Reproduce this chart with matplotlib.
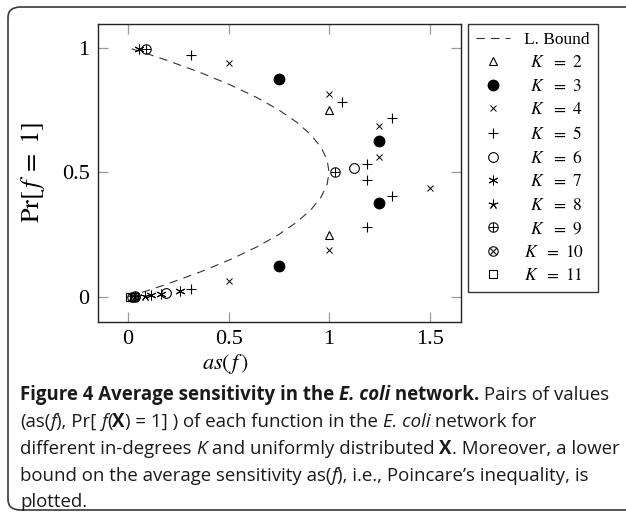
import matplotlib
matplotlib.use("Agg")
from matplotlib import pyplot as plt
from matplotlib.patches import FancyBboxPatch

plt.rcParams['mathtext.fontset'] = 'stix'
plt.rcParams['lines.scale_dashes'] = False

# lower bound (Poincare)
bound_as = [0, 0.0975, 0.19, 0.36, 0.51, 0.64, 0.75, 0.84, 0.91, 0.96, 0.99, 1.0,
            0.99, 0.96, 0.91, 0.84, 0.75, 0.64, 0.51, 0.36, 0.19, 0.0975, 0]
bound_pr = [0, 0.025, 0.05, 0.1, 0.15, 0.2, 0.25, 0.3, 0.35, 0.4, 0.45, 0.5,
            0.55, 0.6, 0.65, 0.7, 0.75, 0.8, 0.85, 0.9, 0.95, 0.975, 1.0]

# (as(f), Pr[f=1]) per in-degree K
k2_as = [1.0, 1.0]
k2_pr = [0.75, 0.25]
k3_as = [0.75, 1.25, 1.25, 0.75]
k3_pr = [0.875, 0.625, 0.375, 0.125]
k4_as = [0.5, 1.0, 1.25, 1.25, 1.5, 1.0, 0.5]
k4_pr = [0.9375, 0.8125, 0.6875, 0.5625, 0.4375, 0.1875, 0.0625]
k5_as = [0.3125, 1.0625, 1.3125, 1.1875, 1.1875, 1.3125, 1.1875, 0.3125]
k5_pr = [0.96875, 0.78125, 0.71875, 0.53125, 0.46875, 0.40625, 0.28125, 0.03125]
k6_as = [1.125, 0.1875]
k6_pr = [0.515, 0.0156]
k7_as = [0.055, 0.115, 0.165, 0.26]
k7_pr = [0.995, 0.008, 0.012, 0.022]
k8_as = [0.085]
k8_pr = [0.004]
k9_as = [0.09, 1.03, 0.035]
k9_pr = [0.995, 0.5, 0.002]
k10_as = [0.02, 0.035]
k10_pr = [0.001, 0.0]
k11_as = [0.01, 0.03]
k11_pr = [0.0, 0.0]

x_ticks = [0, 0.5, 1, 1.5]
x_labels = ['0', '0.5', '1', '1.5']
y_ticks = [0, 0.5, 1]
y_labels = ['0', '0.5', '1']

W, H = 626, 527
fig = plt.figure(figsize=(W / 100, H / 100), dpi=100)

# rounded frame round the figure (open on the right)
frame = FancyBboxPatch((8 / W, 1 - 510 / H), 700 / W, 503 / H,
                       boxstyle="round,pad=0,rounding_size=0.02",
                       transform=fig.transFigure, fill=False,
                       edgecolor='#3a3a3a', linewidth=1.2, clip_on=False)
fig.patches.append(frame)

ax = fig.add_axes([98 / W, 1 - 321.7 / H, 362.7 / W, 297.7 / H])
ax.set_xlim(-0.15, 1.655)
ax.set_ylim(-0.1, 1.095)

kw = dict(linestyle='none', color='black')
hb, = ax.plot(bound_as, bound_pr, linestyle='--', dashes=(6, 4.5),
              color='#333333', linewidth=0.8, label='L. Bound')
h2, = ax.plot(k2_as, k2_pr, marker='^', markersize=6, mfc='none', mew=0.8, **kw)
h3, = ax.plot(k3_as, k3_pr, marker='o', markersize=7.5, **kw)
h4, = ax.plot(k4_as, k4_pr, marker='x', markersize=5, mew=0.7, **kw)
h5, = ax.plot(k5_as, k5_pr, marker='+', markersize=7, mew=0.8, **kw)
h6, = ax.plot(k6_as, k6_pr, marker='o', markersize=7, mfc='none', mew=0.8, **kw)
h7, = ax.plot(k7_as, k7_pr, marker=(6, 2, 0), markersize=7, mew=0.7, **kw)
h8, = ax.plot(k8_as, k8_pr, marker=(5, 2, 0), markersize=7, mew=0.7, **kw)
h9, = ax.plot(k9_as, k9_pr, marker=r'$\oplus$', markersize=7.5, mew=0.1, **kw)
h10, = ax.plot(k10_as, k10_pr, marker=r'$\otimes$', markersize=7.5, mew=0.1, **kw)
h11, = ax.plot(k11_as, k11_pr, marker='s', markersize=6, mfc='none', mew=0.8, **kw)

ax.set_xticks(x_ticks)
ax.set_xticklabels(x_labels)
ax.set_yticks(y_ticks)
ax.set_yticklabels(y_labels)
ax.tick_params(direction='in', length=7, width=0.9, color='#9a9a9a',
               top=True, right=True, labelsize=16, pad=6)
for lab in ax.get_xticklabels() + ax.get_yticklabels():
    lab.set_family('Liberation Serif')
for sp in ax.spines.values():
    sp.set_linewidth(1.0)
    sp.set_color('#222222')

ax.set_ylabel(r'$\mathrm{Pr}[\,f\;=\;1]$', fontsize=19)
ax.yaxis.set_label_coords(-0.14, 0.5)
fig.text(226 / W, 1 - 364 / H, r'$as(\,f\,)$', fontsize=16,
         ha='center', va='center')

handles = [hb, h2, h3, h4, h5, h6, h7, h8, h9, h10, h11]
labels = ['L. Bound'] + [r'$\;\;K\ \ =\ %d$' % k for k in range(2, 10)] + \
         [r'$K\ \ =\ %d\;\;\;$' % k for k in (10, 11)]
leg = ax.legend(handles, labels, loc='upper left',
                bbox_to_anchor=(467.7 / W, 1 - 24 / H),
                bbox_transform=fig.transFigure, borderaxespad=0,
                fancybox=False, frameon=True, handlelength=2.0,
                handletextpad=0.8, labelspacing=0.42, borderpad=0.45,
                prop={'family': 'Liberation Serif', 'size': 12.5})
leg.get_frame().set_edgecolor('black')
leg.get_frame().set_linewidth(1.0)

# caption, drawn piece by piece
cap_font = 'Open Sans'
cap_size = 13.4
lines = [
    [("Figure 4 Average sensitivity in the ", 'bold', 'normal'),
     ("E. coli", 'bold', 'italic'),
     (" network.", 'bold', 'normal'),
     (" Pairs of values", 'normal', 'normal')],
    [("(as(", 'normal', 'normal'), ("f", 'normal', 'italic'),
     ("), Pr[ ", 'normal', 'normal'), ("f", 'normal', 'italic'),
     ("(", 'normal', 'normal'), ("X", 'bold', 'normal'),
     (") = 1] ) of each function in the ", 'normal', 'normal'),
     ("E. coli", 'normal', 'italic'), (" network for", 'normal', 'normal')],
    [("different in-degrees ", 'normal', 'normal'), ("K", 'normal', 'italic'),
     (" and uniformly distributed ", 'normal', 'normal'), ("X", 'bold', 'normal'),
     (". Moreover, a lower", 'normal', 'normal')],
    [("bound on the average sensitivity as(", 'normal', 'normal'),
     ("f", 'normal', 'italic'),
     ("), i.e., Poincare\u2019s inequality, is", 'normal', 'normal')],
    [("plotted.", 'normal', 'normal')],
]
line_y = [395, 422, 449, 476, 502]

renderer = fig.canvas.get_renderer()
for segs, yy in zip(lines, line_y):
    x = 20
    for txt, wt, st in segs:
        t = fig.text(x / W, 1 - yy / H, txt, fontsize=cap_size, family=cap_font,
                     weight=wt, style=st, va='center', ha='left', color='#1a1a1a')
        x += t.get_window_extent(renderer).width

fig.savefig('out.png', dpi=100)
